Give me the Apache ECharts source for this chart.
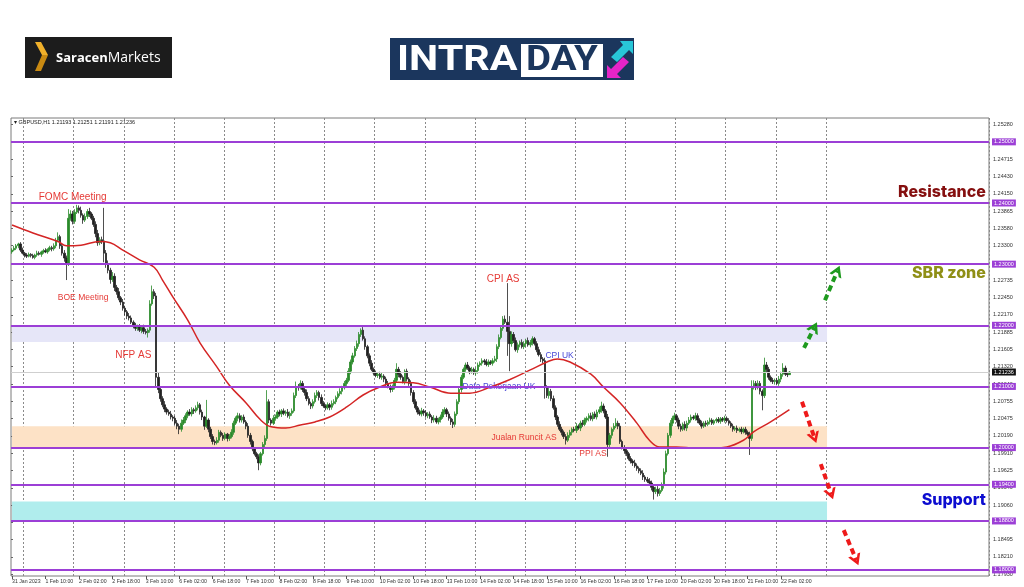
<!DOCTYPE html>
<html><head><meta charset="utf-8">
<script src="https://cdn.jsdelivr.net/npm/echarts@6/dist/echarts.min.js"></script>
<style>html,body{margin:0;padding:0;background:#fff}#c{width:1024px;height:587px}</style>
</head><body><div id="c"></div>
<script>
// ---------- DATA ----------
const symbolName = 'GBPUSD,H1';
const tradingDays = ['31 Jan','1 Feb','2 Feb','3 Feb','6 Feb','7 Feb','8 Feb','9 Feb','10 Feb','13 Feb','14 Feb','15 Feb','16 Feb','17 Feb','20 Feb','21 Feb','22 Feb','23 Feb','24 Feb','27 Feb','28 Feb'];
const firstHour = 18;          // first bar: 31 Jan 18:00
const slotCount = 468;         // bars + empty chart shift on the right
const gridEnd = '23 Feb 00:00';
const firstOpen = 1.2320;
const closes = [
1.2323,1.2326,1.2330,1.2333,1.2323,1.2318,1.2315,1.2313,1.2316,1.2314,
1.2311,1.2315,1.2318,1.2316,1.2320,1.2322,1.2320,1.2324,1.2327,1.2325,
1.2330,1.2339,1.2345,1.2330,1.2318,1.2310,1.2300,1.2375,1.2382,1.2370,
1.2385,1.2392,1.2388,1.2380,1.2372,1.2378,1.2386,1.2382,1.2375,1.2365,
1.2350,1.2335,1.2340,1.2338,1.2318,1.2300,1.2290,1.2275,1.2280,1.2262,
1.2255,1.2245,1.2238,1.2228,1.2222,1.2215,1.2212,1.2205,1.2200,1.2195,
1.2198,1.2192,1.2196,1.2190,1.2188,1.2192,1.2235,1.2255,1.2248,1.2115,
1.2095,1.2080,1.2070,1.2063,1.2058,1.2055,1.2050,1.2048,1.2040,1.2035,
1.2030,1.2040,1.2045,1.2052,1.2058,1.2055,1.2062,1.2060,1.2065,1.2070,
1.2058,1.2050,1.2035,1.2045,1.2030,1.2018,1.2010,1.2008,1.2012,1.2025,
1.2020,1.2015,1.2022,1.2015,1.2018,1.2025,1.2040,1.2048,1.2052,1.2045,
1.2050,1.2042,1.2035,1.2020,1.2010,1.1998,1.1990,1.1985,1.1975,1.1990,
1.2005,1.2015,1.2075,1.2045,1.2040,1.2048,1.2050,1.2058,1.2055,1.2060,
1.2056,1.2058,1.2052,1.2056,1.2060,1.2085,1.2100,1.2098,1.2105,1.2095,
1.2090,1.2080,1.2072,1.2068,1.2075,1.2085,1.2090,1.2082,1.2072,1.2068,
1.2065,1.2070,1.2066,1.2072,1.2075,1.2082,1.2088,1.2092,1.2098,1.2105,
1.2110,1.2125,1.2140,1.2150,1.2162,1.2170,1.2185,1.2192,1.2178,1.2165,
1.2150,1.2138,1.2128,1.2122,1.2118,1.2120,1.2115,1.2117,1.2112,1.2105,
1.2100,1.2095,1.2098,1.2110,1.2128,1.2120,1.2115,1.2108,1.2125,1.2112,
1.2105,1.2090,1.2075,1.2065,1.2058,1.2055,1.2060,1.2057,1.2052,1.2055,
1.2050,1.2045,1.2048,1.2042,1.2046,1.2050,1.2058,1.2062,1.2055,1.2048,
1.2042,1.2038,1.2055,1.2075,1.2095,1.2115,1.2128,1.2135,1.2130,1.2125,
1.2128,1.2122,1.2126,1.2135,1.2138,1.2142,1.2140,1.2136,1.2140,1.2138,
1.2142,1.2145,1.2165,1.2180,1.2195,1.2210,1.2205,1.2190,1.2170,1.2185,
1.2175,1.2160,1.2168,1.2172,1.2165,1.2170,1.2175,1.2168,1.2172,1.2178,
1.2170,1.2160,1.2152,1.2145,1.2142,1.2098,1.2085,1.2092,1.2080,1.2065,
1.2050,1.2038,1.2030,1.2025,1.2018,1.2012,1.2020,1.2025,1.2030,1.2028,
1.2035,1.2032,1.2040,1.2038,1.2045,1.2048,1.2052,1.2047,1.2055,1.2050,
1.2058,1.2062,1.2068,1.2060,1.2050,1.2005,1.2020,1.2030,1.2035,1.2040,
1.2035,1.2010,1.2000,1.1995,1.1990,1.1982,1.1978,1.1975,1.1970,1.1966,
1.1962,1.1958,1.1952,1.1948,1.1945,1.1942,1.1935,1.1928,1.1932,1.1925,
1.1930,1.1938,1.1960,1.1990,1.2020,1.2040,1.2048,1.2052,1.2045,1.2035,
1.2030,1.2038,1.2032,1.2040,1.2045,1.2050,1.2048,1.2052,1.2045,1.2040,
1.2035,1.2040,1.2038,1.2042,1.2045,1.2040,1.2044,1.2046,1.2043,1.2047,
1.2045,1.2048,1.2044,1.2040,1.2035,1.2030,1.2032,1.2028,1.2030,1.2026,
1.2030,1.2025,1.2022,1.2015,1.2100,1.2105,1.2098,1.2105,1.2092,1.2085,
1.2135,1.2128,1.2115,1.2110,1.2108,1.2110,1.2105,1.2112,1.2120,1.2130,
1.2120,1.21193,1.21236];
// upper / lower wick beyond the body, in pips
const wickUp = [
3,4,3,2,3,4,2,3,3,2, 3,2,4,3,2,3,4,2,3,3, 4,4,7,3,4,5,4,15,6,5, 5,5,4,6,3,5,4,6,3,4,
5,6,4,5,54,5,6,4,7,5, 4,6,3,5,4,3,5,4,3,4, 3,4,3,5,4,3,6,10,4,5, 7,5,4,6,3,4,5,3,4,5,
4,6,5,4,3,5,4,3,4,5, 3,4,2,33,3,4,4,3,5,4, 3,4,3,2,4,5,4,3,5,4, 3,4,3,5,4,3,2,3,4,3,
4,5,19,4,3,5,4,3,4,3, 4,3,5,3,4,5,8,4,5,4, 3,5,4,3,4,5,4,3,5,4, 3,4,3,5,4,3,4,5,3,4,
4,5,4,5,4,5,4,3,5,4, 3,4,5,3,4,3,4,5,3,4, 4,3,5,4,10,4,5,3,3,4, 3,5,4,4,3,4,5,3,4,3,
4,3,5,4,3,4,5,4,3,4, 3,5,4,4,5,4,3,4,5,3, 4,3,5,4,3,4,3,5,4,3, 4,5,4,5,4,5,6,64,25,5,
4,5,4,3,5,4,3,5,4,4, 3,4,5,4,3,5,4,6,4,5, 4,3,5,4,3,4,5,4,3,4, 5,3,4,5,4,3,4,5,3,4,
4,5,7,4,3,5,4,3,5,8, 4,5,3,4,5,3,4,3,5,4, 3,4,5,3,4,5,4,3,4,5, 4,5,6,5,4,5,4,5,3,4,
4,3,5,4,5,4,3,5,4,3, 4,3,4,3,4,3,2,3,4,3, 3,4,3,4,3,4,3,4,3,4, 3,4,3,4,10,5,4,5,4,3,
12,5,4,3,4,3,4,5,4,8, 4,3,1.5];
const wickDown = [
3,2,3,4,3,2,4,3,2,3, 2,3,3,2,4,3,2,3,3,4, 3,4,3,5,4,6,26,3,4,5, 4,3,5,4,6,3,4,5,3,4,
6,5,4,5,15,6,5,7,4,6, 5,4,5,4,6,5,4,3,5,4, 4,3,5,4,3,8,4,3,5,15, 6,5,4,5,4,3,4,5,4,5,
8,4,3,5,4,3,4,5,3,4, 4,5,6,3,5,4,5,4,3,4, 3,4,3,5,4,3,4,3,5,4, 4,3,5,4,5,4,3,4,12,4,
3,4,4,5,4,3,4,3,4,5, 3,4,3,5,4,3,4,5,3,4, 5,4,3,5,4,3,4,5,4,3, 4,3,5,4,3,4,3,4,5,3,
4,3,5,4,3,4,5,4,3,5, 4,5,3,4,3,4,3,4,5,4, 3,5,4,3,4,5,4,3,5,4, 4,5,4,3,4,3,4,5,3,4,
3,5,4,3,4,5,3,4,5,4, 5,6,4,3,4,5,3,4,3,5, 4,3,4,5,3,4,5,3,4,3, 4,3,5,4,3,4,3,40,45,5,
4,3,5,4,3,4,5,3,4,5, 3,4,3,5,4,18,4,5,4,3, 5,4,3,5,4,7,3,4,5,3, 4,3,5,4,3,4,5,3,4,3,
4,3,5,4,3,20,4,5,4,3, 5,4,3,5,4,3,4,5,3,4, 4,3,5,4,3,4,5,13,4,5, 4,3,5,4,3,4,5,3,4,5,
4,3,4,5,3,4,3,4,5,3, 4,3,4,3,4,3,3,4,3,4, 3,4,3,4,3,4,3,4,3,4, 3,4,3,27,4,5,4,3,5,24,
4,5,4,3,4,5,3,4,5,4, 3,4,0.2];
// moving average: [bar index, value]
const maPoints = [[0,1.2364],[10,1.2351],[22,1.2337],[26,1.2330],[33,1.2331],[42,1.2337],[47,1.2335],
[53,1.2323],[61,1.2307],[68,1.2295],[72,1.2274],[77,1.2246],[84,1.2209],[90,1.2171],[98,1.2132],
[104,1.2102],[112,1.2073],[119,1.2045],[124,1.2034],[131,1.2032],[138,1.2037],[145,1.2042],
[152,1.2050],[160,1.2066],[168,1.2086],[176,1.2099],[184,1.2107],[192,1.2106],[200,1.2099],
[210,1.2089],[219,1.2089],[229,1.2099],[238,1.2111],[248,1.2127],[256,1.2140],[261,1.2145],
[267,1.2140],[277,1.2120],[283,1.2099],[291,1.2073],[299,1.2040],[305,1.2012],[310,1.2001],
[318,1.2001],[327,1.1999],[334,1.1999],[342,1.2001],[350,1.2012],[355,1.2026],[363,1.2042],[372,1.2062]];
const levels = [1.25, 1.24, 1.23, 1.22, 1.21, 1.20, 1.194, 1.188, 1.18];
const zoneBands = [[1.2200, 1.21725], [1.2035, 1.2000], [1.1912, 1.1880]];
const currentPrice = 1.21236;
const xTickLabels = ['31 Jan 2023','1 Feb 10:00','2 Feb 02:00','2 Feb 18:00','3 Feb 10:00','6 Feb 02:00','6 Feb 18:00','7 Feb 10:00','8 Feb 02:00','8 Feb 18:00','9 Feb 10:00','10 Feb 02:00','10 Feb 18:00','13 Feb 10:00','14 Feb 02:00','14 Feb 18:00','15 Feb 10:00','16 Feb 02:00','16 Feb 18:00','17 Feb 10:00','20 Feb 02:00','20 Feb 18:00','21 Feb 10:00','22 Feb 02:00'];
const yTickLabels = ['1.17930','1.18210','1.18495','1.18780','1.19060','1.19340','1.19625','1.19910','1.20190','1.20475','1.20755','1.21040','1.21320','1.21605','1.21885','1.22170','1.22450','1.22735','1.23015','1.23300','1.23580','1.23865','1.24150','1.24430','1.24715','1.24995','1.25280'];
// event notes: [text, bar index, price, kind]
const events = [
['FOMC Meeting',29,1.2410,'redL'],['BOE Meeting',34,1.2246,'redS'],['NFP AS',58,1.2151,'redL'],
['CPI AS',235,1.2276,'redL'],['CPI UK',262,1.2151,'blueS'],['Data Pekerjaan UK',233,1.2099,'blueS'],
['Jualan Runcit AS',245,1.2016,'redS'],['PPI AS',278,1.1990,'redS']];
const zoneNames = [['Resistance',466,1.2418,'res'],['SBR zone',466,1.2285,'sbr'],['Support',466,1.1914,'sup']];
// scenario arrows: [fromIdx, fromPrice, toIdx, toPrice, kind]
const arrows = [[379,1.2163,384,1.2197,'up'],[389,1.2241,395,1.2289,'up'],
[378,1.2075,384,1.2016,'down'],[387,1.1973,392,1.1924,'down'],[398,1.1865,404,1.1816,'down']];

// ---------- BUILD ----------
const cats = [];
tradingDays.forEach((d,k)=>{ for(let h=(k===0?firstHour:0); h<24; h++) cats.push(d+' '+String(h).padStart(2,'0')+':00'); });
const slots = cats.slice(0, slotCount);
const barCount = closes.length;
const candles = closes.map((c,i)=>{ const o = i ? closes[i-1] : firstOpen;
  return [o, c, Math.min(o,c) - wickDown[i]*1e-4, Math.max(o,c) + wickUp[i]*1e-4]; });
const last = candles[barCount-1];
const gridEndIdx = slots.indexOf(gridEnd);
const yLabMin = +yTickLabels[0], yLabMax = +yTickLabels[yTickLabels.length-1];
const yLabStep = (yLabMax - yLabMin)/(yTickLabels.length-1);

const PURPLE = '#9c3fd6';
const zoneColors = ['#e6e6f8','#fde2c6','#b0eded'];
const evStyle = {
  redL:{color:'#e53935',fontSize:10}, redS:{color:'#e53935',fontSize:8.5},
  blueS:{color:'#4646d6',fontSize:8.5}};
const zStyle = {res:'#850f0f', sbr:'#8f8f16', sup:'#0c0cd0'};
const FONT = 'Liberation Sans, Arial, sans-serif';
const CHEVRON = 'path://M0,12 L8,0 L16,12 L12.5,12 L8,5.5 L3.5,12 Z';

const chart = echarts.init(document.getElementById('c'));
chart.setOption({
  animation:false,
  backgroundColor:'#fff',
  grid:[
    {left:11,right:35,top:118,bottom:11,show:true,borderColor:'#7a7a7a',borderWidth:1},
    {left:11,right:35,top:124.7,bottom:12.8}
  ],
  xAxis:[
    {type:'category',data:slots,boundaryGap:true,gridIndex:0,
     axisLine:{show:false},
     axisTick:{show:true,length:3,alignWithLabel:true,lineStyle:{color:'#555'},
       interval:(i)=> i%16===0 && i/16 < xTickLabels.length},
     axisLabel:{show:true,fontSize:5.2,color:'#333',align:'left',margin:3,fontFamily:FONT,
       interval:(i)=> i%16===0 && i/16 < xTickLabels.length,
       formatter:(v,i)=> xTickLabels[i/16] || ''},
     splitLine:{show:true,interval:(i)=> slots[i].endsWith(' 00:00') && i<=gridEndIdx,
       lineStyle:{color:'#8a8a8a',type:[2,2],width:1}}},
    {type:'value',gridIndex:1,show:false,min:0,max:1}
  ],
  yAxis:[
    {type:'value',gridIndex:0,min:1.1790,max:1.2539,scale:true,
     axisLine:{show:false},axisTick:{show:false},axisLabel:{show:false},splitLine:{show:false}},
    {type:'value',gridIndex:1,position:'right',min:yLabMin,max:yLabMax+1e-9,interval:yLabStep,
     axisLine:{show:false},axisTick:{show:true,length:2,lineStyle:{color:'#666'}},splitLine:{show:false},
     axisLabel:{fontSize:5.5,color:'#333',margin:4,fontFamily:FONT,
       formatter:(v)=> yTickLabels[Math.round((v-yLabMin)/yLabStep)] || ''}}
  ],
  graphic:[
    {type:'rect',shape:{x:25,y:37,width:147,height:41},style:{fill:'#1c1c1c'}},
    {type:'polygon',shape:{points:[[35,42],[41,42],[48,55],[42,55]]},style:{fill:'#f0b02a'}},
    {type:'polygon',shape:{points:[[42,55],[48,55],[41,71],[35,71]]},style:{fill:'#c98a12'}},
    {type:'text',x:56,y:58,style:{text:'{a|Saracen}{b|Markets}',verticalAlign:'middle',
      rich:{a:{fontSize:13,fontWeight:'bold',fill:'#fff',fontFamily:'Open Sans'},
            b:{fontSize:14,fill:'#fff',fontFamily:'Open Sans'}}}},
    {type:'rect',shape:{x:390,y:38,width:244,height:42},style:{fill:'#1b365d'}},
    {type:'text',x:397,y:61,scaleX:1.18,style:{text:'INTRA',fill:'#fff',font:'bold 35px Roboto',verticalAlign:'middle'}},
    {type:'rect',shape:{x:521,y:44,width:82,height:33},style:{fill:'#fff'}},
    {type:'text',x:526,y:61,scaleX:1.1,style:{text:'DAY',fill:'#1b365d',font:'bold 35px Roboto',verticalAlign:'middle'}},
    {type:'polygon',shape:{points:[[620,41],[633,41],[633,54],[629,50],[617,62],[611,57],[623,45]]},style:{fill:'#28c6d8'}},
    {type:'polygon',shape:{points:[[607,78],[607,65],[611,69],[623,57],[629,62],[617,74],[621,78]]},style:{fill:'#e524c8'}},
    {type:'text',x:14,y:122,style:{text:'▾ '+symbolName+' '+[last[0],last[3],last[2],last[1]].map(v=>v.toFixed(5)).join(' '),
      fill:'#222',font:'5.5px '+FONT,verticalAlign:'middle'}}
  ],
  series:[
    {type:'candlestick',xAxisIndex:0,yAxisIndex:0,data:candles,barWidth:2,
     itemStyle:{color:'#2a8a2a',color0:'#222',borderColor:'#2a8a2a',borderColor0:'#222',borderWidth:0.8},
     markArea:{silent:true,z:1,
       data: zoneBands.map((b,k)=>[{xAxis:slots[0],yAxis:b[0],itemStyle:{color:zoneColors[k]}},{xAxis:gridEnd,yAxis:b[1]}])},
     markLine:{silent:true,symbol:['none','none'],precision:6,
       data: levels.map(v=>({yAxis:v,lineStyle:{color:PURPLE,width:2,type:'solid'},
           label:{show:true,position:'end',distance:3,formatter:v.toFixed(5),fontSize:5.5,color:'#fff',
             backgroundColor:PURPLE,padding:[1,2,0,2],fontFamily:FONT}}))
         .concat([{yAxis:currentPrice,lineStyle:{color:'#cfcfcf',width:1,type:'solid'},
           label:{show:true,position:'end',distance:3,formatter:currentPrice.toFixed(5),fontSize:5.5,color:'#fff',
             backgroundColor:'#111',padding:[1,2,0,2],fontFamily:FONT}}])}
    },
    {type:'line',xAxisIndex:0,yAxisIndex:0,data:maPoints,smooth:0.4,showSymbol:false,
     lineStyle:{color:'#d42525',width:1.5},z:3},
    {type:'scatter',xAxisIndex:0,yAxisIndex:0,symbolSize:0,itemStyle:{opacity:1},
     data: events.map(e=>({value:[e[1],e[2]],name:e[0],
        label:{show:true,position:'inside',formatter:e[0],color:evStyle[e[3]].color,fontSize:evStyle[e[3]].fontSize,
          fontFamily:FONT,textBorderWidth:0}})),
     markLine:{silent:true,symbol:['none',CHEVRON],symbolSize:[13,11],precision:6,
       data: arrows.map(a=>[{coord:[a[0],a[1]],lineStyle:{color:a[4]==='up'?'#1e9a1e':'#ee1a1a',width:4,type:[6,4]}},
                            {coord:[a[2],a[3]]}]),
       label:{show:false}}
    },
    {type:'scatter',xAxisIndex:0,yAxisIndex:0,symbolSize:0,itemStyle:{opacity:1},
     data: zoneNames.map(e=>({value:[e[1],e[2]],
        label:{show:true,position:'inside',align:'right',formatter:e[0],color:zStyle[e[3]],fontSize:16,fontWeight:800,
          fontFamily:'Inter',textBorderWidth:0}}))}
  ]
});
</script></body></html>
